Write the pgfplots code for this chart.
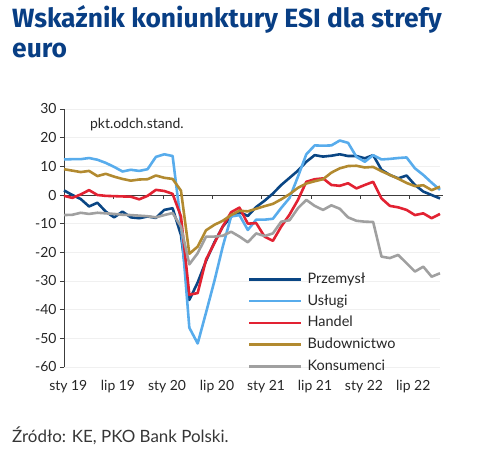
\documentclass[border=0pt]{standalone}
\usepackage{fontspec}
\setmainfont{Lato}
\newfontfamily\titlefont{Fira Sans}
\usepackage{pgfplots}
\pgfplotsset{compat=1.18}
\usepackage{pgfplotstable}

\definecolor{titleblue}{RGB}{8,62,132}
\definecolor{cPrz}{RGB}{10,70,132}
\definecolor{cUsl}{RGB}{88,172,236}
\definecolor{cHan}{RGB}{226,34,50}
\definecolor{cBud}{RGB}{178,138,48}
\definecolor{cKon}{RGB}{160,160,160}
\definecolor{axisgray}{RGB}{60,60,60}

\pgfplotstableread{
x prz usl han bud kon
0 1.6 12.4 -0.3 9.0 -7.0
1 0.0 12.5 -1.0 8.5 -6.9
2 -1.4 12.5 0.2 8.0 -6.2
3 -4.0 12.9 1.7 8.4 -6.6
4 -2.7 12.3 0.0 6.6 -6.2
5 -5.8 11.2 -0.3 7.4 -6.4
6 -7.8 9.8 -0.4 6.4 -6.6
7 -5.8 8.2 -0.5 5.6 -6.9
8 -7.8 8.8 -0.6 5.0 -7.0
9 -8.1 8.4 -1.5 5.4 -7.2
10 -7.5 9.0 -0.3 5.5 -7.4
11 -8.0 13.3 1.8 6.8 -7.8
12 -5.2 14.2 1.4 6.0 -7.0
13 -4.6 13.6 0.4 5.6 -6.3
14 -14.0 -10.0 -7.5 1.5 -11.0
15 -36.6 -46.3 -34.8 -20.5 -24.2
16 -30.5 -51.8 -34.2 -18.0 -20.3
17 -23.0 -41.0 -22.5 -12.3 -14.5
18 -16.5 -30.0 -16.8 -10.4 -14.5
19 -11.0 -18.0 -11.0 -9.0 -14.2
20 -7.5 -7.5 -6.0 -7.0 -12.8
21 -6.0 -7.0 -4.4 -5.5 -14.5
22 -7.3 -12.2 -10.0 -5.7 -16.5
23 -4.2 -8.6 -9.8 -4.8 -13.4
24 -2.0 -8.6 -14.5 -3.9 -14.3
25 0.5 -8.3 -16.0 -3.1 -13.4
26 3.5 -4.5 -11.0 -1.5 -9.3
27 6.0 -1.0 -6.8 0.3 -8.8
28 8.5 6.4 -1.7 2.5 -4.6
29 11.6 14.2 4.6 4.0 -1.7
30 13.9 17.3 5.5 4.8 -3.8
31 13.4 17.2 5.8 5.5 -5.2
32 13.7 17.3 3.5 7.8 -3.6
33 14.2 19.0 3.2 9.3 -4.8
34 13.6 18.2 4.1 10.1 -7.8
35 13.6 13.3 2.3 10.2 -9.0
36 12.8 11.6 3.5 9.6 -9.3
37 13.9 13.9 4.6 9.8 -9.4
38 8.8 12.4 -1.2 8.3 -21.5
39 7.0 12.6 -3.8 7.0 -22.0
40 5.8 12.9 -4.3 5.7 -20.9
41 6.8 13.1 -5.2 4.2 -23.8
42 3.5 9.3 -7.0 3.1 -26.7
43 1.2 7.0 -6.4 3.4 -25.0
44 0.0 4.3 -8.1 1.7 -28.5
45 -1.2 1.8 -6.6 2.9 -27.3
}\esidata

\begin{document}
\begin{tikzpicture}
\path[use as bounding box] (0bp,0bp) rectangle (495bp,458bp);
\node[anchor=base west, inner sep=0pt, text=titleblue, font=\titlefont\fontsize{26.5}{30}\selectfont\bfseries] at (12bp,430bp) {Wskaźnik koniunktury ESI dla strefy};
\node[anchor=base west, inner sep=0pt, text=titleblue, font=\titlefont\fontsize{26.5}{30}\selectfont\bfseries] at (12bp,400bp) {euro};
\node[anchor=base west, inner sep=0pt, text=axisgray!90!black, font=\fontsize{17}{20}\selectfont] at (12bp,16bp) {Źródło: KE, PKO Bank Polski.};
\begin{axis}[
  at={(64bp,91bp)}, anchor=south west,
  width=376bp, height=258bp, scale only axis,
  xmin=0, xmax=45, ymin=-60, ymax=30,
  axis lines*=left,
  x axis line style={draw=none},
  y axis line style={axisgray, line width=0.9pt},
  ytick={-60,-50,-40,-30,-20,-10,0,10,20,30},
  yticklabels={-60,-50,-40,-30,-20,-10,0,10,20,30},
  ytick style={axisgray, line width=0.9pt},
  tick align=outside, major tick length=4bp,
  ymajorgrids, grid style={black!6, line width=0.6pt},
  xtick={0.51,6.46,12.33,18.31,24.18,30.04,35.9,41.8},
  xticklabels={sty 19,lip 19,sty 20,lip 20,sty 21,lip 21,sty 22,lip 22},
  xtick style={draw=none},
  xticklabel style={anchor=base, yshift=-20bp},
  yticklabel style={anchor=east},
  ticklabel style={font=\fontsize{14}{16}\selectfont, text=black!85},
  clip=false,
  legend style={at={(0.489,0.368)}, anchor=north west, draw=none, fill=none,
    inner sep=0pt, row sep=7.8bp, column sep=5bp,
    nodes={inner sep=0pt, text height=11bp, text depth=3bp, font=\fontsize{14.5}{17}\selectfont, text=black!85}},
  legend cell align=left,
  legend image code/.code={\draw[#1] (0bp,0bp) -- (52bp,0bp);},
  every axis plot/.append style={line width=2.6pt, line join=round},
]
\draw[axisgray, line width=0.9pt] (axis cs:0,0) -- (axis cs:45.4,0);
\pgfplotsinvokeforeach{5.92,11.85,17.8,23.66,29.56,35.43,41.4}{
  \draw[axisgray, line width=0.9pt] (axis cs:#1,0) -- ++(0bp,-4bp);
}
\node[anchor=west, inner sep=0pt, font=\fontsize{14}{16}\selectfont, text=black!85] at (axis cs:3.1,24.7) {pkt.odch.stand.};
\addplot[cPrz] table[x=x,y=prz]{\esidata};
\addlegendentry{Przemysł}
\addplot[cUsl] table[x=x,y=usl]{\esidata};
\addlegendentry{Usługi}
\addplot[cHan] table[x=x,y=han]{\esidata};
\addlegendentry{Handel}
\addplot[cBud] table[x=x,y=bud]{\esidata};
\addlegendentry{Budownictwo}
\addplot[cKon] table[x=x,y=kon]{\esidata};
\addlegendentry{Konsumenci}
\end{axis}
\end{tikzpicture}
\end{document}
